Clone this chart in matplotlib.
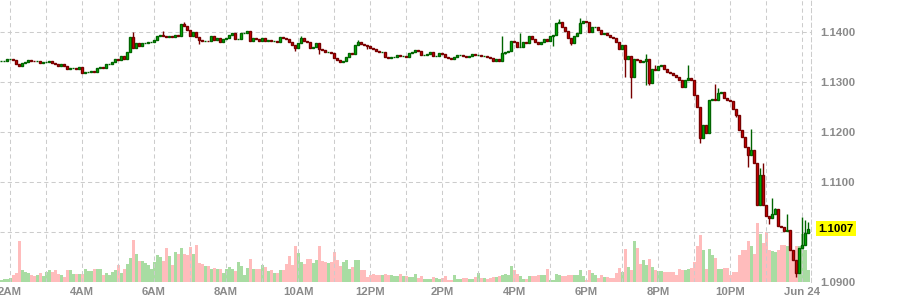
import matplotlib
matplotlib.use("Agg")
import matplotlib.pyplot as plt
import matplotlib.dates as mdates
import pandas as pd

# 5-minute EUR/USD candles, 23 Jun 2016 01:45 -> 24 Jun 00:10
start_time = "2016-06-23 01:45"
first_open = 1.1342

closes = [
    1.1342, 1.1342, 1.1346, 1.1347, 1.1345, 1.1336, 1.1332, 1.1338, 1.1340, 1.1344,
    1.1343, 1.1342, 1.1343, 1.1338, 1.1340, 1.1341, 1.1342, 1.1338, 1.1336, 1.1332,
    1.1336, 1.1333, 1.1326, 1.1328, 1.1328, 1.1327, 1.1330, 1.1318, 1.1320, 1.1321,
    1.1322, 1.1320, 1.1328, 1.1330, 1.1329, 1.1336, 1.1337, 1.1340, 1.1346, 1.1345,
    1.1352, 1.1346, 1.1360, 1.1390, 1.1368, 1.1378, 1.1372, 1.1378, 1.1379, 1.1380,
    1.1381, 1.1384, 1.1392, 1.1394, 1.1392, 1.1390, 1.1392, 1.1390, 1.1394, 1.1392,
    1.1416, 1.1412, 1.1404, 1.1392, 1.1400, 1.1390, 1.1384, 1.1382, 1.1383, 1.1382,
    1.1392, 1.1384, 1.1388, 1.1380, 1.1386, 1.1388, 1.1394, 1.1398, 1.1386, 1.1387,
    1.1398, 1.1399, 1.1402, 1.1382, 1.1388, 1.1386, 1.1382, 1.1388, 1.1382, 1.1384,
    1.1382, 1.1383, 1.1380, 1.1390, 1.1388, 1.1386, 1.1380, 1.1374, 1.1368, 1.1378,
    1.1388, 1.1382, 1.1380, 1.1368, 1.1370, 1.1378, 1.1366, 1.1364, 1.1360, 1.1361,
    1.1358, 1.1348, 1.1344, 1.1340, 1.1342, 1.1350, 1.1358, 1.1356, 1.1374, 1.1380,
    1.1376, 1.1374, 1.1373, 1.1368, 1.1367, 1.1362, 1.1360, 1.1361, 1.1350, 1.1348,
    1.1350, 1.1351, 1.1354, 1.1352, 1.1352, 1.1350, 1.1358, 1.1360, 1.1364, 1.1362,
    1.1354, 1.1355, 1.1356, 1.1360, 1.1352, 1.1353, 1.1358, 1.1356, 1.1350, 1.1348,
    1.1346, 1.1350, 1.1354, 1.1355, 1.1352, 1.1351, 1.1352, 1.1356, 1.1354, 1.1355,
    1.1352, 1.1353, 1.1350, 1.1348, 1.1342, 1.1346, 1.1342, 1.1358, 1.1360, 1.1362,
    1.1382, 1.1380, 1.1370, 1.1371, 1.1380, 1.1378, 1.1392, 1.1386, 1.1380, 1.1376,
    1.1380, 1.1386, 1.1382, 1.1392, 1.1394, 1.1418, 1.1420, 1.1410, 1.1402, 1.1388,
    1.1378, 1.1392, 1.1398, 1.1418, 1.1422, 1.1421, 1.1400, 1.1410, 1.1411, 1.1404,
    1.1396, 1.1398, 1.1394, 1.1390, 1.1389, 1.1380, 1.1366, 1.1374, 1.1346, 1.1352,
    1.1310, 1.1346, 1.1344, 1.1340, 1.1342, 1.1346, 1.1298, 1.1326, 1.1324, 1.1332,
    1.1334, 1.1326, 1.1320, 1.1318, 1.1314, 1.1310, 1.1304, 1.1290, 1.1304, 1.1308,
    1.1304, 1.1274, 1.1250, 1.1188, 1.1214, 1.1198, 1.1264, 1.1266, 1.1264, 1.1278,
    1.1280, 1.1268, 1.1264, 1.1262, 1.1246, 1.1234, 1.1204, 1.1190, 1.1170, 1.1154,
    1.1164, 1.1138, 1.1054, 1.1114, 1.1054, 1.1032, 1.1028, 1.1036, 1.1046, 1.1012,
    1.1010, 1.1002, 1.1004, 1.0964, 1.0944, 1.0918, 1.0968, 1.0974, 1.0998, 1.1007,
]

# wicks that stick out clearly beyond the bodies (candle index -> price)
wick_highs = {44: 1.1400, 54: 1.1402, 61: 1.1420, 100: 1.1392, 119: 1.1384,
              167: 1.1392, 173: 1.1398, 186: 1.1426, 193: 1.1428, 215: 1.1356,
              218: 1.1334, 229: 1.1334, 238: 1.1296, 239: 1.1288, 250: 1.1206,
              253: 1.1128, 254: 1.1138, 257: 1.1068, 258: 1.1048, 262: 1.1036,
              267: 1.1030, 268: 1.1024, 269: 1.1020}
wick_lows = {66: 1.1376, 98: 1.1362, 106: 1.1356, 122: 1.1366, 168: 1.1356,
             184: 1.1372, 190: 1.1374, 208: 1.1310, 210: 1.1268, 215: 1.1294,
             216: 1.1294, 233: 1.1178, 245: 1.1230, 249: 1.1130, 256: 1.1016,
             265: 1.0910}

volumes = [
    2, 3, 3, 4, 7, 9, 41, 12, 10, 9,
    7, 6, 7, 9, 6, 10, 12, 10, 12, 8,
    7, 5, 12, 12, 8, 8, 8, 8, 13, 11,
    11, 13, 13, 13, 7, 9, 7, 10, 12, 17,
    9, 13, 18, 24, 42, 28, 21, 21, 19, 17,
    13, 20, 27, 25, 21, 34, 26, 17, 30, 28,
    34, 28, 27, 35, 28, 37, 19, 18, 16, 16,
    13, 14, 13, 13, 9, 13, 15, 13, 11, 20,
    16, 7, 14, 23, 13, 13, 13, 17, 15, 11,
    12, 9, 9, 12, 12, 18, 26, 17, 36, 29,
    20, 18, 23, 23, 19, 22, 36, 21, 20, 19,
    20, 30, 22, 16, 20, 22, 13, 15, 22, 22,
    12, 12, 5, 7, 8, 7, 7, 7, 8, 7,
    7, 6, 6, 8, 6, 6, 5, 5, 8, 4,
    6, 3, 3, 3, 5, 4, 3, 4, 6, 2,
    2, 7, 3, 3, 4, 4, 3, 3, 5, 9,
    4, 4, 3, 4, 5, 5, 6, 7, 8, 7,
    16, 12, 8, 6, 3, 3, 6, 6, 6, 7,
    7, 7, 13, 2, 2, 8, 7, 6, 6, 7,
    7, 7, 7, 12, 6, 2, 12, 9, 7, 4,
    7, 5, 5, 4, 4, 9, 14, 10, 33, 15,
    12, 41, 34, 18, 22, 17, 23, 15, 12, 11,
    11, 10, 10, 10, 10, 7, 13, 12, 12, 13,
    14, 20, 36, 47, 32, 13, 33, 27, 24, 13,
    13, 14, 14, 7, 10, 10, 27, 32, 32, 41,
    36, 28, 59, 48, 39, 50, 32, 31, 30, 32,
    37, 37, 36, 32, 32, 36, 36, 48, 32, 12,
]

x_tick_labels = ["2AM", "4AM", "6AM", "8AM", "10AM", "12PM",
                 "2PM", "4PM", "6PM", "8PM", "10PM", "Jun 24"]
y_ticks = [1.09, 1.10, 1.11, 1.12, 1.13, 1.14]

UP_FILL, UP_EDGE = "#00cc00", "#006400"
DN_FILL, DN_EDGE = "#e80000", "#780000"
VOL_UP, VOL_DN = "#a8dca2", "#ffbcbc"
GRID = "#cccccc"
LABEL = "#8a8a8a"

times = pd.date_range(start_time, periods=len(closes), freq="5min")
xs = mdates.date2num(times)
step = 5 / 1440.0
opens = [first_open] + closes[:-1]

fig = plt.figure(figsize=(9.19, 3.04), dpi=100)
rect = [0.0, 22 / 304, 811 / 919, 282 / 304]
vol_ax = fig.add_axes(rect)
ax = fig.add_axes(rect, sharex=vol_ax)
ax.set_zorder(2)
vol_ax.set_zorder(1)
ax.patch.set_visible(False)

# volume bars, coloured by candle direction
vol_colors = [VOL_UP if c >= o else VOL_DN for o, c in zip(opens, closes)]
vol_ax.bar(xs, volumes, width=step, color=vol_colors, linewidth=0)
vol_ax.set_ylim(0, max(volumes) * 4.8)
vol_ax.set_yticks([])
vol_ax.tick_params(axis="x", which="both", length=0, labelbottom=False)
for s in vol_ax.spines.values():
    s.set_visible(False)

# candles
for i, (xv, o, c) in enumerate(zip(xs, opens, closes)):
    up = c >= o
    hi = wick_highs.get(i, max(o, c))
    lo = wick_lows.get(i, min(o, c))
    edge = UP_EDGE if up else DN_EDGE
    ax.vlines(xv, lo, hi, color=edge, linewidth=1.0, zorder=3)
    ax.bar(xv, c - o, bottom=o, width=step * 0.62,
           color=UP_FILL if up else DN_FILL, edgecolor=edge,
           linewidth=1.0, zorder=4)

# axes limits and ticks
hour0 = pd.Timestamp("2016-06-23 02:00")
left = mdates.date2num(hour0 - pd.Timedelta(minutes=16.7))
right = mdates.date2num(pd.Timestamp("2016-06-24 00:15"))
ax.set_xlim(left, right)
ax.set_ylim(1.0900, 1.1464)

major = [hour0 + pd.Timedelta(hours=2 * i) for i in range(len(x_tick_labels))]
minor = [hour0 + pd.Timedelta(hours=i) for i in range(23)]
ax.set_xticks(mdates.date2num(major))
ax.set_xticklabels(x_tick_labels)
ax.set_xticks(mdates.date2num(minor), minor=True)

ax.yaxis.tick_right()
ax.set_yticks(y_ticks)
ax.set_yticklabels([f"{v:.4f}" for v in y_ticks])

ax.tick_params(axis="both", which="both", length=0, colors=LABEL)
ax.tick_params(axis="x", pad=3.5)
ax.tick_params(axis="y", pad=6.5)
for lab in ax.get_xticklabels() + ax.get_yticklabels():
    lab.set_fontfamily("Liberation Sans")
    lab.set_fontweight("bold")
    lab.set_fontsize(8.2)

ax.grid(True, which="both", color=GRID, linestyle=(0, (4, 3)), linewidth=0.75)
for name, s in ax.spines.items():
    s.set_visible(name == "right")
ax.spines["right"].set_color(GRID)
ax.spines["right"].set_linestyle((0, (4, 3)))
ax.spines["right"].set_linewidth(0.75)

# last price tag (sits over the 1.1000 label, as in the source chart)
last = closes[-1]
ax.text(1.0 + 7.5 / 811, last, f"{last:.4f}", transform=ax.get_yaxis_transform(),
        ha="left", va="center", fontsize=8.2, fontweight="bold",
        family="Liberation Sans", color="black", zorder=10, clip_on=False,
        bbox=dict(boxstyle="square,pad=0.22", facecolor="#ffff00", edgecolor="none"))

fig.savefig("out.png", dpi=100)
